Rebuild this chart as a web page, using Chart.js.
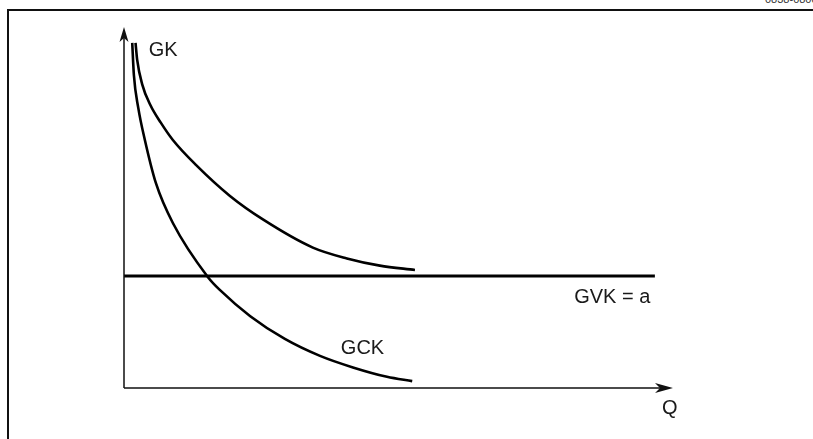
<!DOCTYPE html>
<html>
<head>
<meta charset="utf-8">
<script src="https://cdn.jsdelivr.net/npm/chart.js@4/dist/chart.umd.min.js"></script>
<style>
  html, body { margin: 0; padding: 0; background: #fff; }
  body { width: 813px; height: 439px; position: relative; overflow: hidden; font-family: 'Liberation Sans', Arial, sans-serif; }
  #frame { position: absolute; left: 7px; top: 9px; width: 820px; height: 450px; border-top: 2px solid #111; border-left: 2px solid #111; }
  #code { position: absolute; left: 765px; top: -7px; font-size: 11px; color: #333; white-space: nowrap; }
  #wrap { position: absolute; left: 0; top: 0; width: 813px; height: 439px; }
</style>
</head>
<body>
<div id="frame"></div>
<div id="code">0838-080c</div>
<div id="wrap"><canvas id="myChart"></canvas></div>
<script>
'use strict';

// curves (x = Q, y = cost), axis range 0..100
const gkX  = [2.1, 2.4, 3.3, 4.8, 6.7, 8.9, 13.1, 19.3, 25.3, 34.4, 40.6, 46.6, 53.0];
const gkY  = [95.6, 90.9, 84.2, 78.4, 73.5, 68.7, 61.8, 53.2, 46.7, 38.9, 35.9, 33.9, 32.7];
const gckX = [1.5, 1.8, 2.6, 3.8, 5.8, 8.9, 15.3, 17.5, 23.0, 29.3, 35.7, 41.7, 47.9, 52.5];
const gckY = [95.6, 86.7, 77.6, 68.7, 56.8, 45.7, 30.7, 27.1, 19.9, 13.6, 8.9, 5.7, 3.1, 1.9];
const gvkX = [0, 96.7];
const gvkY = [31, 31];

const labels = ['GK', 'GCK', 'GVK = a', 'Q'];
const labelPos = [[4.5, 92], [39.5, 9.5], [82, 23.5], [98, -7.3]];

const toPoints = (xs, ys) => xs.map((x, i) => ({x: x, y: ys[i]}));

const axesPlugin = {
  id: 'axes',
  afterDatasetsDraw(chart){
    const c = chart.ctx;
    const xs = chart.scales.x, ys = chart.scales.y;
    const x0 = xs.getPixelForValue(0), y0 = ys.getPixelForValue(0);
    const xEnd = xs.getPixelForValue(100), yEnd = ys.getPixelForValue(100);
    c.save();
    c.strokeStyle = '#111';
    c.fillStyle = '#111';
    c.lineWidth = 1.5;
    c.beginPath();
    c.moveTo(x0, y0);
    c.lineTo(x0, yEnd + 6);
    c.moveTo(x0, y0);
    c.lineTo(xEnd - 6, y0);
    c.stroke();
    // arrow heads
    c.beginPath();
    c.moveTo(x0, yEnd);
    c.lineTo(x0 - 4.5, yEnd + 15);
    c.lineTo(x0, yEnd + 11);
    c.lineTo(x0 + 4.5, yEnd + 15);
    c.closePath();
    c.fill();
    c.beginPath();
    c.moveTo(xEnd, y0);
    c.lineTo(xEnd - 18, y0 - 5);
    c.lineTo(xEnd - 13, y0);
    c.lineTo(xEnd - 18, y0 + 5);
    c.closePath();
    c.fill();
    // curve labels
    c.font = '20px "Liberation Sans", Arial, sans-serif';
    c.fillStyle = '#1a1a1a';
    c.textBaseline = 'alphabetic';
    labels.forEach((t, i) => {
      c.fillText(t, xs.getPixelForValue(labelPos[i][0]), ys.getPixelForValue(labelPos[i][1]));
    });
    c.restore();
  }
};

const ctx = document.getElementById('myChart');
new Chart(ctx, {
  type: 'line',
  data: {
    datasets: [
      { label: 'GK', data: toPoints(gkX, gkY), borderColor: '#000', borderWidth: 2.6, cubicInterpolationMode: 'monotone', pointRadius: 0 },
      { label: 'GCK', data: toPoints(gckX, gckY), borderColor: '#000', borderWidth: 2.6, cubicInterpolationMode: 'monotone', pointRadius: 0 },
      { label: 'GVK', data: toPoints(gvkX, gvkY), borderColor: '#000', borderWidth: 3, pointRadius: 0 }
    ]
  },
  options: {
    responsive: true,
    maintainAspectRatio: false,
    animation: false,
    layout: { padding: { left: 124, right: 140, top: 27, bottom: 51 } },
    scales: {
      x: { type: 'linear', min: 0, max: 100, display: false },
      y: { type: 'linear', min: 0, max: 100, display: false }
    },
    plugins: {
      legend: { display: false },
      tooltip: { enabled: false }
    }
  },
  plugins: [axesPlugin]
});
</script>
</body>
</html>
